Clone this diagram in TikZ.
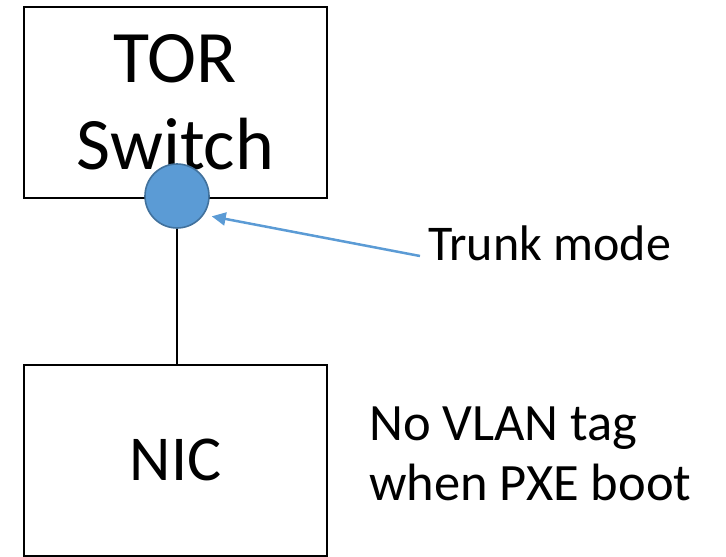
\documentclass[tikz,border=0pt]{standalone}
\usepackage{fontspec}
\setmainfont{Carlito}
\usetikzlibrary{arrows.meta}
\definecolor{portblue}{HTML}{5B9BD5}
\definecolor{portedge}{HTML}{41719C}
\begin{document}
\begin{tikzpicture}[x=1pt,y=-1pt,
  devbox/.style={draw=black, line width=2pt, rectangle, minimum width=303pt, minimum height=191pt, inner sep=0pt, align=center},
  port/.style={circle, fill=portblue, draw=portedge, line width=1.6pt, minimum size=64pt, inner sep=0pt},
  note/.style={inner sep=0pt, align=left},
  link/.style={draw=black, line width=2pt},
  pointer/.style={draw=portblue, line width=2.5pt, -{Triangle[length=14pt,width=13pt]}}
]
\useasboundingbox (0,0) rectangle (726,557);

% switch and NIC boxes
\node[devbox, font=\fontsize{74}{87}\selectfont] (tor) at (175.5,102.5) {TOR\\Switch};
\node[devbox, font=\fontsize{64}{78}\selectfont] (nic) at (175.5,460) {NIC};

% cable between the switch port and the NIC
\node[port] (sw) at (177,196) {};
\draw[link] (sw.south) -- (sw.south |- nic.north);

% labels
\node[note, font=\fontsize{50}{60}\selectfont, anchor=base west] (trunk) at (428,260) {Trunk mode};
\node[note, font=\fontsize{52.5}{60}\selectfont, anchor=west] (novlan) at (369,454) {No VLAN tag\\when PXE boot};

% pointer from the label to the port
\coordinate (tail) at (420,256);
\draw[pointer, shorten >=8pt] (tail) -- (sw.-35);
\end{tikzpicture}
\end{document}
